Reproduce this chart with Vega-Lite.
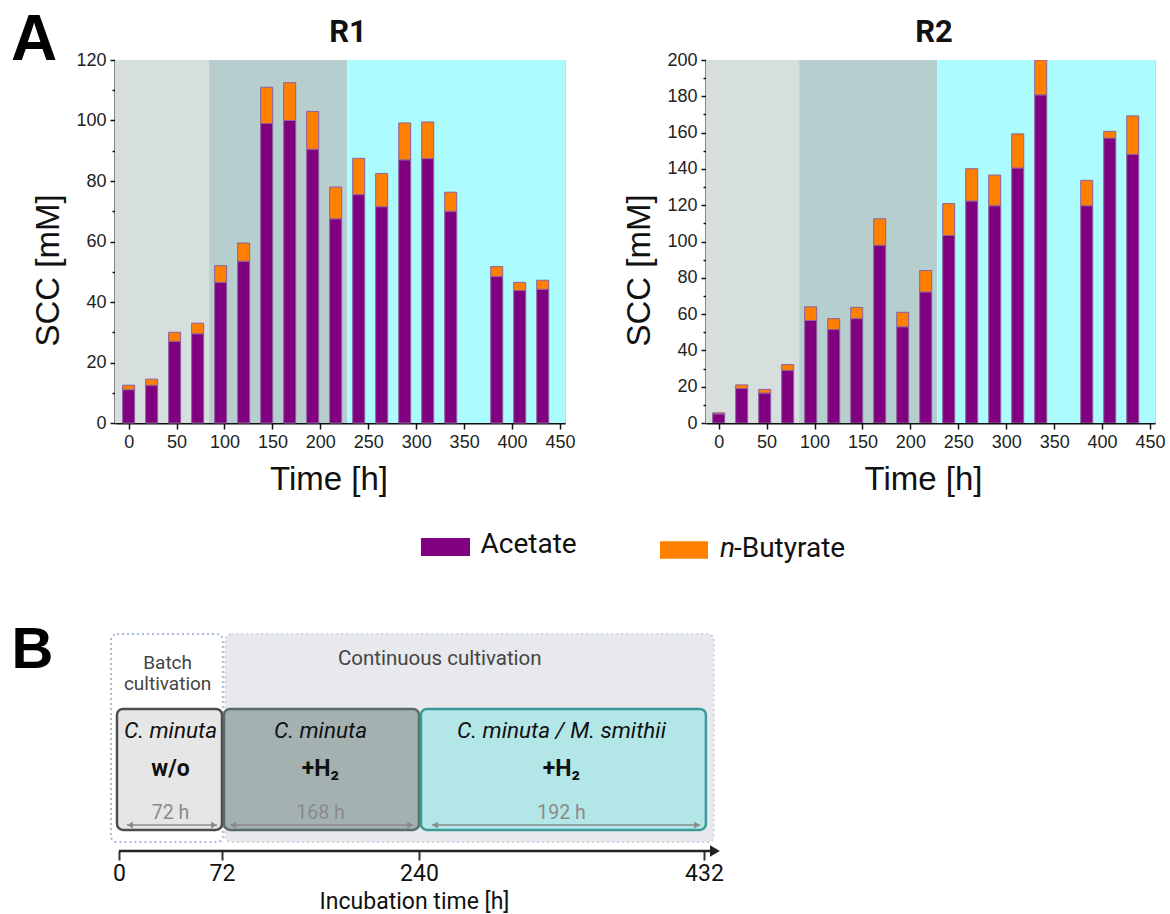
{
  "$schema": "https://vega.github.io/schema/vega-lite/v6.json",
  "background": "white",
  "padding": {"left": 11, "top": 8, "right": 5, "bottom": 5},
  "title": {"text": "A", "anchor": "start", "frame": "group", "font": "Liberation Sans", "fontSize": 64, "fontWeight": "bold", "color": "#000", "baseline": "alphabetic", "offset": 0, "dx": -104, "dy": 107},
  "columns": 2,
  "bounds": "flush",
  "spacing": {"row": 60, "column": 141},
  "resolve": {"scale": {"fill": "independent", "stroke": "independent", "x": "independent", "y": "independent"}},
  "config": {
    "view": {"stroke": "#c9d9d9"},
    "axis": {"labelFont": "Liberation Sans", "labelFontSize": 18, "labelColor": "#222", "titleFont": "Liberation Sans", "titleFontSize": 33, "titleFontWeight": "normal", "titleColor": "#111", "domainColor": "#111", "domainWidth": 2, "tickColor": "#111", "tickWidth": 1.5, "grid": false},
    "title": {"font": "Roboto", "fontSize": 31, "fontWeight": "bold", "color": "#111"}
  },
  "datasets": {
    "bars": [
      {"reactor": "R1", "time": 0, "Acetate": 11, "n-Butyrate": 1.5},
      {"reactor": "R1", "time": 24, "Acetate": 12.5, "n-Butyrate": 2},
      {"reactor": "R1", "time": 48, "Acetate": 27, "n-Butyrate": 3},
      {"reactor": "R1", "time": 72, "Acetate": 29.5, "n-Butyrate": 3.5},
      {"reactor": "R1", "time": 96, "Acetate": 46.5, "n-Butyrate": 5.5},
      {"reactor": "R1", "time": 120, "Acetate": 53.5, "n-Butyrate": 6},
      {"reactor": "R1", "time": 144, "Acetate": 99, "n-Butyrate": 12},
      {"reactor": "R1", "time": 168, "Acetate": 100, "n-Butyrate": 12.5},
      {"reactor": "R1", "time": 192, "Acetate": 90.5, "n-Butyrate": 12.5},
      {"reactor": "R1", "time": 216, "Acetate": 67.5, "n-Butyrate": 10.5},
      {"reactor": "R1", "time": 240, "Acetate": 75.5, "n-Butyrate": 12},
      {"reactor": "R1", "time": 264, "Acetate": 71.5, "n-Butyrate": 11},
      {"reactor": "R1", "time": 288, "Acetate": 87, "n-Butyrate": 12.2},
      {"reactor": "R1", "time": 312, "Acetate": 87.4, "n-Butyrate": 12.1},
      {"reactor": "R1", "time": 336, "Acetate": 70, "n-Butyrate": 6.3},
      {"reactor": "R1", "time": 384, "Acetate": 48.4, "n-Butyrate": 3.3},
      {"reactor": "R1", "time": 408, "Acetate": 43.8, "n-Butyrate": 2.7},
      {"reactor": "R1", "time": 432, "Acetate": 44.2, "n-Butyrate": 3},
      {"reactor": "R2", "time": 0, "Acetate": 5, "n-Butyrate": 0.6},
      {"reactor": "R2", "time": 24, "Acetate": 19, "n-Butyrate": 2},
      {"reactor": "R2", "time": 48, "Acetate": 16.5, "n-Butyrate": 2},
      {"reactor": "R2", "time": 72, "Acetate": 29, "n-Butyrate": 3.2},
      {"reactor": "R2", "time": 96, "Acetate": 56.5, "n-Butyrate": 7.5},
      {"reactor": "R2", "time": 120, "Acetate": 51.5, "n-Butyrate": 6},
      {"reactor": "R2", "time": 144, "Acetate": 57.5, "n-Butyrate": 6.2},
      {"reactor": "R2", "time": 168, "Acetate": 98, "n-Butyrate": 14.5},
      {"reactor": "R2", "time": 192, "Acetate": 53, "n-Butyrate": 8},
      {"reactor": "R2", "time": 216, "Acetate": 72.2, "n-Butyrate": 11.8},
      {"reactor": "R2", "time": 240, "Acetate": 103.3, "n-Butyrate": 17.6},
      {"reactor": "R2", "time": 264, "Acetate": 122.3, "n-Butyrate": 17.8},
      {"reactor": "R2", "time": 288, "Acetate": 119.7, "n-Butyrate": 16.9},
      {"reactor": "R2", "time": 312, "Acetate": 140.5, "n-Butyrate": 18.8},
      {"reactor": "R2", "time": 336, "Acetate": 180.8, "n-Butyrate": 19.2},
      {"reactor": "R2", "time": 384, "Acetate": 119.7, "n-Butyrate": 14},
      {"reactor": "R2", "time": 408, "Acetate": 157, "n-Butyrate": 3.7},
      {"reactor": "R2", "time": 432, "Acetate": 148, "n-Butyrate": 21.2}
    ],
    "phases": [
      {"phase": "batch", "start": -20, "end": 84},
      {"phase": "h2", "start": 84, "end": 228},
      {"phase": "co", "start": 228, "end": 470}
    ],
    "outer": [
      {"box": "Batch cultivation", "start": -5.6, "end": 72.7},
      {"box": "Continuous cultivation", "start": 74.8, "end": 438.7}
    ],
    "stages": [
      {"stage": "batch", "start": -1.4, "end": 72, "mid": 36, "org": "C. minuta", "cond": "w/o", "dur": "72 h", "a1": 5.6, "a2": 68.5},
      {"stage": "h2", "start": 73.7, "end": 240, "mid": 156, "org": "C. minuta", "cond": "+H₂", "dur": "168 h", "a1": 79, "a2": 235},
      {"stage": "co", "start": 241.3, "end": 433.3, "mid": 336, "org": "C. minuta / M. smithii", "cond": "+H₂", "dur": "192 h", "a1": 248.8, "a2": 429.4}
    ]
  },
  "concat": [
    {
      "width": 450, "height": 363,
      "title": {"text": "R1", "frame": "group", "dx": 8, "offset": 2},
      "layer": [
        {
          "data": {"name": "phases"},
          "mark": {"type": "rect", "clip": true},
          "encoding": {
            "x": {"field": "start", "type": "quantitative", "scale": {"domain": [-9, 450], "nice": false, "zero": false},
              "axis": {"values": [0, 25, 50, 75, 100, 125, 150, 175, 200, 225, 250, 275, 300, 325, 350, 375, 400, 425, 450], "labelExpr": "datum.value % 50 === 0 ? datum.label : ''", "tickSize": {"condition": {"test": "datum.value % 50 === 0", "value": 6}, "value": 3.5}, "title": "Time [h]", "titlePadding": 12, "titleX": 213.5, "labelPadding": 4, "labelFlush": false, "labelOverlap": false}},
            "x2": {"field": "end"},
            "fill": {"field": "phase", "type": "nominal", "scale": {"domain": ["batch", "h2", "co"], "range": ["#d6dfde", "#b6cece", "#adfcfd"]}, "legend": null}
          }
        },
        {
          "data": {"name": "bars"},
          "transform": [{"filter": "datum.reactor === 'R1'"}, {"fold": ["Acetate", "n-Butyrate"], "as": ["acid", "value"]}],
          "mark": {"type": "bar", "size": 12, "stroke": "#8d5f9f", "strokeWidth": 1},
          "encoding": {
            "x": {"field": "time", "type": "quantitative"},
            "y": {"field": "value", "type": "quantitative", "stack": "zero", "scale": {"domain": [0, 120], "nice": false},
              "axis": {"values": [0, 10, 20, 30, 40, 50, 60, 70, 80, 90, 100, 110, 120], "labelExpr": "datum.value % 20 === 0 ? datum.label : ''", "tickSize": {"condition": {"test": "datum.value % 20 === 0", "value": 5}, "value": 3}, "title": "SCC [mM]", "titlePadding": 10, "titleY": 210, "labelPadding": 4, "labelOverlap": false}},
            "color": {"field": "acid", "type": "nominal", "scale": {"domain": ["Acetate", "n-Butyrate"], "range": ["#800080", "#ff8000"]}, "legend": null},
            "order": {"field": "acid", "type": "nominal", "sort": "ascending"}
          }
        }
      ]
    },
    {
      "width": 449, "height": 363,
      "title": {"text": "R2", "frame": "group", "dx": 3.5, "offset": 2},
      "layer": [
        {
          "data": {"name": "phases"},
          "mark": {"type": "rect", "clip": true},
          "encoding": {
            "x": {"field": "start", "type": "quantitative", "scale": {"domain": [-8, 450], "nice": false, "zero": false},
              "axis": {"values": [0, 25, 50, 75, 100, 125, 150, 175, 200, 225, 250, 275, 300, 325, 350, 375, 400, 425, 450], "labelExpr": "datum.value % 50 === 0 ? datum.label : ''", "tickSize": {"condition": {"test": "datum.value % 50 === 0", "value": 6}, "value": 3.5}, "title": "Time [h]", "titlePadding": 12, "titleX": 217, "labelPadding": 4, "labelFlush": false, "labelOverlap": false}},
            "x2": {"field": "end"},
            "fill": {"field": "phase", "type": "nominal", "scale": {"domain": ["batch", "h2", "co"], "range": ["#d6dfde", "#b6cece", "#adfcfd"]}, "legend": null}
          }
        },
        {
          "data": {"name": "bars"},
          "transform": [{"filter": "datum.reactor === 'R2'"}, {"fold": ["Acetate", "n-Butyrate"], "as": ["acid", "value"]}],
          "mark": {"type": "bar", "size": 12, "stroke": "#8d5f9f", "strokeWidth": 1, "clip": true},
          "encoding": {
            "x": {"field": "time", "type": "quantitative"},
            "y": {"field": "value", "type": "quantitative", "stack": "zero", "scale": {"domain": [0, 200], "nice": false},
              "axis": {"values": [0, 10, 20, 30, 40, 50, 60, 70, 80, 90, 100, 110, 120, 130, 140, 150, 160, 170, 180, 190, 200], "labelExpr": "datum.value % 20 === 0 ? datum.label : ''", "tickSize": {"condition": {"test": "datum.value % 20 === 0", "value": 5}, "value": 3}, "title": "SCC [mM]", "titlePadding": 10, "titleY": 210, "labelPadding": 4, "labelOverlap": false}},
            "color": {"field": "acid", "type": "nominal", "scale": {"domain": ["Acetate", "n-Butyrate"], "range": ["#800080", "#ff8000"]}, "legend": null},
            "order": {"field": "acid", "type": "nominal", "sort": "ascending"}
          }
        }
      ]
    },
    {
      "width": 450, "height": 86,
      "view": {"stroke": null},
      "data": {"values": [{"acid": "Acetate"}]},
      "encoding": {
        "x": {"field": "acid", "type": "nominal", "scale": {"type": "point", "domain": ["Acetate"], "range": [330, 331]}, "axis": null}
      },
      "layer": [
        {
          "mark": {"type": "point", "shape": "M-1,-0.367H1V0.367H-1Z", "size": 2401, "filled": true, "opacity": 1, "yOffset": 21},
          "encoding": {"color": {"field": "acid", "type": "nominal", "scale": {"domain": ["Acetate", "n-Butyrate"], "range": ["#800080", "#ff8000"]}, "legend": null}}
        },
        {
          "mark": {"type": "text", "align": "left", "baseline": "middle", "dx": 35, "yOffset": 19, "font": "Roboto", "fontSize": 28, "color": "#111"},
          "encoding": {"text": {"field": "acid"}}
        }
      ]
    },
    {
      "width": 449, "height": 86,
      "view": {"stroke": null},
      "data": {"values": [{"acid": "n-Butyrate"}]},
      "encoding": {
        "x": {"field": "acid", "type": "nominal", "scale": {"type": "point", "domain": ["n-Butyrate"], "range": [-22.5, -21.5]}, "axis": null}
      },
      "layer": [
        {
          "mark": {"type": "point", "shape": "M-1,-0.367H1V0.367H-1Z", "size": 2304, "filled": true, "opacity": 1, "yOffset": 24},
          "encoding": {"color": {"field": "acid", "type": "nominal", "scale": {"domain": ["Acetate", "n-Butyrate"], "range": ["#800080", "#ff8000"]}, "legend": null}}
        },
        {
          "mark": {"type": "text", "align": "left", "baseline": "middle", "dx": 36, "yOffset": 23, "font": "Roboto", "fontSize": 28, "fontStyle": "italic", "color": "#111"},
          "encoding": {"text": {"value": "n"}}
        },
        {
          "mark": {"type": "text", "align": "left", "baseline": "middle", "dx": 50, "yOffset": 23, "font": "Roboto", "fontSize": 28, "color": "#111"},
          "encoding": {"text": {"value": "-Butyrate"}}
        }
      ]
    },
    {
      "width": 450, "height": 222,
      "view": {"stroke": null},
      "layer": [
        {
          "data": {"name": "outer"},
          "mark": {"type": "rect", "cornerRadius": 6, "strokeDash": [2, 3], "strokeWidth": 2},
          "encoding": {
            "x": {"field": "start", "type": "quantitative", "scale": {"domain": [-6, 0, 72, 240, 432, 445], "range": [-4.6, 4, 107, 304, 589, 608], "nice": false, "zero": false},
              "axis": {"values": [0, 72, 240, 432], "domain": false, "tickSize": 9, "tickWidth": 2, "tickColor": "#333", "labelFont": "Roboto", "labelFontSize": 23, "labelColor": "#111", "labelPadding": 2, "labelFlush": false, "title": "Incubation time [h]", "titleFont": "Roboto", "titleFontSize": 23, "titlePadding": 5, "titleX": 299}},
            "x2": {"field": "end"},
            "y": {"datum": 97.7, "type": "quantitative", "scale": {"domain": [0, 100], "nice": false}, "axis": null},
            "y2": {"datum": 4},
            "fill": {"field": "box", "type": "nominal", "scale": {"domain": ["Batch cultivation", "Continuous cultivation", "batch", "h2", "co"], "range": ["#ffffff", "#e8e9ec", "#e6e6e6", "#a3b1b1", "#b3e6e6"]}, "legend": null},
            "stroke": {"field": "box", "type": "nominal", "scale": {"domain": ["Batch cultivation", "Continuous cultivation", "batch", "h2", "co"], "range": ["#a9bbd3", "#ccd5e0", "#4d4d4d", "#5a6b6b", "#3d9a9a"]}, "legend": null}
          }
        },
        {
          "data": {"name": "stages"},
          "mark": {"type": "rect", "cornerRadius": 6, "strokeWidth": 2.5},
          "encoding": {
            "x": {"field": "start", "type": "quantitative"},
            "x2": {"field": "end"},
            "y": {"datum": 64, "type": "quantitative"},
            "y2": {"datum": 9.5},
            "fill": {"field": "stage", "type": "nominal", "scale": {"domain": ["Batch cultivation", "Continuous cultivation", "batch", "h2", "co"], "range": ["#ffffff", "#e8e9ec", "#e6e6e6", "#a3b1b1", "#b3e6e6"]}, "legend": null},
            "stroke": {"field": "stage", "type": "nominal", "scale": {"domain": ["Batch cultivation", "Continuous cultivation", "batch", "h2", "co"], "range": ["#a9bbd3", "#ccd5e0", "#4d4d4d", "#5a6b6b", "#3d9a9a"]}, "legend": null}
          }
        },
        {
          "data": {"values": [{"label": ["Batch", "cultivation"], "at": 34}]},
          "mark": {"type": "text", "font": "Roboto", "fontSize": 19, "color": "#444", "lineHeight": 21, "baseline": "middle"},
          "encoding": {"x": {"field": "at", "type": "quantitative"}, "y": {"datum": 84.9, "type": "quantitative"}, "text": {"field": "label"}}
        },
        {
          "data": {"values": [{"label": "Continuous  cultivation", "at": 254}]},
          "mark": {"type": "text", "font": "Roboto", "fontSize": 20.5, "color": "#444", "baseline": "middle"},
          "encoding": {"x": {"field": "at", "type": "quantitative"}, "y": {"datum": 86.5, "type": "quantitative"}, "text": {"field": "label"}}
        },
        {
          "data": {"name": "stages"},
          "mark": {"type": "text", "font": "Roboto", "fontSize": 22.5, "fontStyle": "italic", "color": "#111", "baseline": "middle"},
          "encoding": {"x": {"field": "mid", "type": "quantitative"}, "y": {"datum": 54, "type": "quantitative"}, "text": {"field": "org"}}
        },
        {
          "data": {"name": "stages"},
          "mark": {"type": "text", "font": "Roboto", "fontSize": 23, "fontWeight": "bold", "color": "#111", "baseline": "middle"},
          "encoding": {"x": {"field": "mid", "type": "quantitative"}, "y": {"datum": 37, "type": "quantitative"}, "text": {"field": "cond"}}
        },
        {
          "data": {"name": "stages"},
          "mark": {"type": "text", "font": "Roboto", "fontSize": 19.5, "color": "#8a8a8a", "baseline": "middle"},
          "encoding": {"x": {"field": "mid", "type": "quantitative"}, "y": {"datum": 17, "type": "quantitative"}, "text": {"field": "dur"}}
        },
        {
          "data": {"name": "stages"},
          "mark": {"type": "rule", "color": "#8a8a8a", "strokeWidth": 1.5},
          "encoding": {"x": {"field": "a1", "type": "quantitative"}, "x2": {"field": "a2"}, "y": {"datum": 11.7, "type": "quantitative"}}
        },
        {
          "data": {"name": "stages"},
          "mark": {"type": "point", "shape": "triangle-left", "size": 45, "filled": true, "color": "#8a8a8a", "opacity": 1, "xOffset": 3},
          "encoding": {"x": {"field": "a1", "type": "quantitative"}, "y": {"datum": 11.7, "type": "quantitative"}}
        },
        {
          "data": {"name": "stages"},
          "mark": {"type": "point", "shape": "triangle-right", "size": 45, "filled": true, "color": "#8a8a8a", "opacity": 1, "xOffset": -3},
          "encoding": {"x": {"field": "a2", "type": "quantitative"}, "y": {"datum": 11.7, "type": "quantitative"}}
        },
        {
          "data": {"values": [{"from": 0, "to": 437}]},
          "mark": {"type": "rule", "color": "#222", "strokeWidth": 2.5},
          "encoding": {"x": {"field": "from", "type": "quantitative"}, "x2": {"field": "to"}, "y": {"datum": 0, "type": "quantitative"}}
        },
        {
          "data": {"values": [{"tip": 439.5}]},
          "mark": {"type": "point", "shape": "triangle-right", "size": 130, "filled": true, "color": "#222", "opacity": 1},
          "encoding": {"x": {"field": "tip", "type": "quantitative"}, "y": {"datum": 0, "type": "quantitative"}}
        },
        {
          "data": {"values": [{"panel": "B"}]},
          "mark": {"type": "text", "font": "Liberation Sans", "fontSize": 58, "fontWeight": "bold", "color": "#000", "align": "center", "baseline": "alphabetic"},
          "encoding": {"x": {"datum": -60.4, "type": "quantitative"}, "y": {"datum": 82.5, "type": "quantitative"}, "text": {"field": "panel"}}
        }
      ]
    }
  ]
}
